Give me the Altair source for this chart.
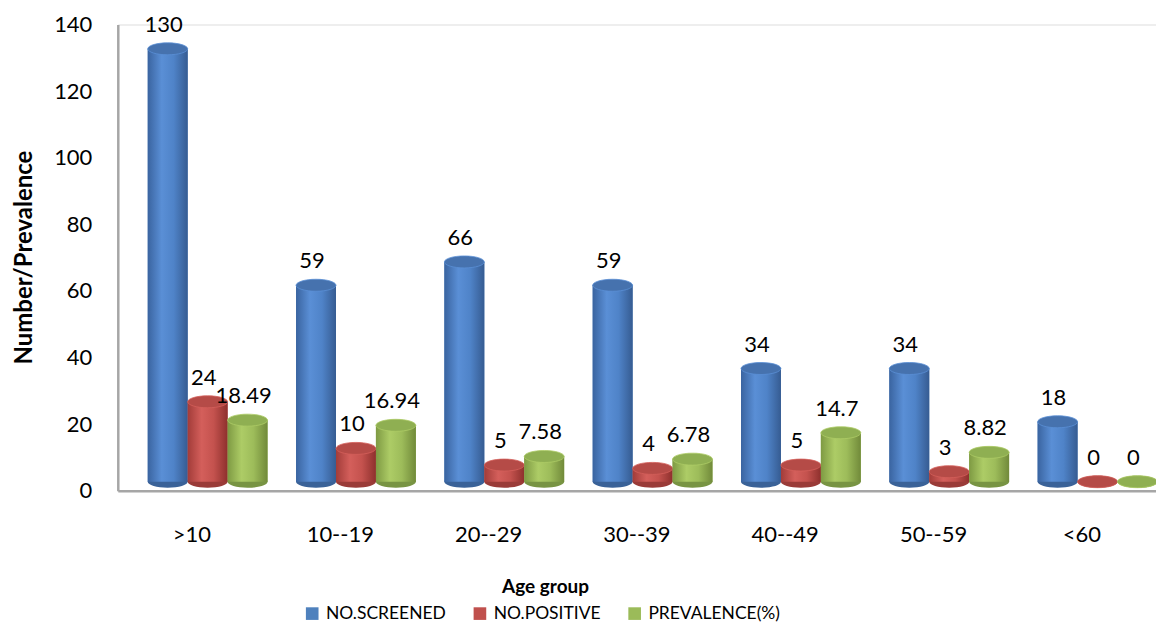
import altair as alt
import pandas as pd

# Screening results by age group
age_groups = [">10", "10--19", "20--29", "30--39", "40--49", "50--59", "<60"]
screened = [130, 59, 66, 59, 34, 34, 18]
positive = [24, 10, 5, 4, 5, 3, 0]
prevalence = [18.49, 16.94, 7.58, 6.78, 14.7, 8.82, 0]

series = ["NO.SCREENED", "NO.POSITIVE", "PREVALENCE(%)"]
base_colors = ["#4F81BD", "#C0504D", "#9BBB59"]
cap_colors = ["#4672AE", "#B54B47", "#8FAF52"]
foot_colors = ["#3A6298", "#9A3B38", "#789443"]
gradients = [
    ["#3A64A0", "#5A8FD6", "#4F83C8", "#365C92"],
    ["#A23C39", "#D45F5B", "#C4524E", "#8E302D"],
    ["#7E9A43", "#ADCC66", "#9DBC5A", "#718A3A"],
]

rows = []
for i, g in enumerate(age_groups):
    for s, vals in zip(series, [screened, positive, prevalence]):
        v = vals[i]
        rows.append({"group": g, "series": s, "value": v, "label": f"{v:g}"})
df = pd.DataFrame(rows)

FONT = "Lato"
LIFT = -9  # floor of the bars sits a little above the axis line

x_enc = alt.X("group:N", sort=age_groups,
              scale=alt.Scale(paddingInner=0, paddingOuter=0),
              axis=alt.Axis(title="Age group", labelAngle=0, ticks=False,
                            labelPadding=34, labelFontSize=22, labelFont=FONT,
                            labelColor="#000000", domainColor="#A6A6A6",
                            domainWidth=2.5, titleFont=FONT, titleFontSize=19,
                            titleFontWeight="bold", titleColor="#000000",
                            titleX=428, titleY=102, titleBaseline="alphabetic"))
off_enc = alt.XOffset("series:N", sort=series,
                      scale=alt.Scale(domain=series, range=[30, 150],
                                      paddingInner=0, paddingOuter=0))
y_enc = alt.Y("value:Q",
              scale=alt.Scale(domain=[0, 140], nice=False),
              axis=alt.Axis(title="Number/Prevalence", values=list(range(0, 141, 20)),
                            grid=False, ticks=False, labelPadding=26,
                            labelFontSize=22, labelFont=FONT, labelColor="#000000",
                            domainColor="#A6A6A6", domainWidth=2.5,
                            titleFont=FONT, titleFontSize=24, titleFontWeight="bold",
                            titleColor="#000000", titleX=-86, titleY=233,
                            titleBaseline="alphabetic"))

ellipse = "M -1 0 A 1 0.3 0 1 0 1 0 A 1 0.3 0 1 0 -1 0 Z"

base = alt.Chart(df)

# flat bars carrying the colour legend
bars = base.mark_bar(yOffset=LIFT, y2Offset=LIFT).encode(
    x=x_enc, xOffset=off_enc, y=y_enc,
    color=alt.Color("series:N", sort=series,
                    scale=alt.Scale(domain=series, range=base_colors),
                    legend=alt.Legend(title=None, orient="none", direction="horizontal",
                                      legendX=186, legendY=581, symbolType="square",
                                      symbolSize=160, symbolStrokeWidth=0,
                                      labelFont=FONT, labelFontSize=17.5,
                                      labelColor="#000000", columnPadding=25,
                                      labelOffset=5, padding=0)),
)

layers = []
for s, grad, cap, foot in zip(series, gradients, cap_colors, foot_colors):
    sub = base.transform_filter(alt.datum.series == s)
    foot_layer = sub.mark_point(shape=ellipse, size=1600, filled=True, opacity=1,
                                fill=foot, strokeWidth=0, yOffset=LIFT).encode(
        x=x_enc, xOffset=off_enc, y=alt.datum(0))
    shade = sub.mark_bar(yOffset=LIFT, y2Offset=LIFT, fill=alt.Gradient(
        gradient="linear", x1=0, x2=1, y1=0, y2=0,
        stops=[alt.GradientStop(offset=0, color=grad[0]),
               alt.GradientStop(offset=0.35, color=grad[1]),
               alt.GradientStop(offset=0.65, color=grad[2]),
               alt.GradientStop(offset=1, color=grad[3])])).encode(
        x=x_enc, xOffset=off_enc, y=y_enc)
    top = sub.mark_point(shape=ellipse, size=1600, filled=True, opacity=1,
                         fill=cap, stroke=grad[1], strokeWidth=0.8,
                         yOffset=LIFT).encode(x=x_enc, xOffset=off_enc, y=y_enc)
    layers += [foot_layer, shade, top]

labels = base.mark_text(font=FONT, fontSize=22, color="#000000", baseline="middle",
                        dx=-4, dy=-33).encode(
    x=x_enc, xOffset=off_enc, y=y_enc, text="label:N")

chart = alt.layer(bars, *layers, labels).properties(
    width=1040, height=467,
    padding={"left": 118, "top": 24, "right": 0, "bottom": 137},
    autosize=alt.AutoSizeParams(type="none"),
).configure_view(stroke=None).configure(background="#FFFFFF")

chart.save("out.html", embed_options={"renderer": "svg", "actions": False})
